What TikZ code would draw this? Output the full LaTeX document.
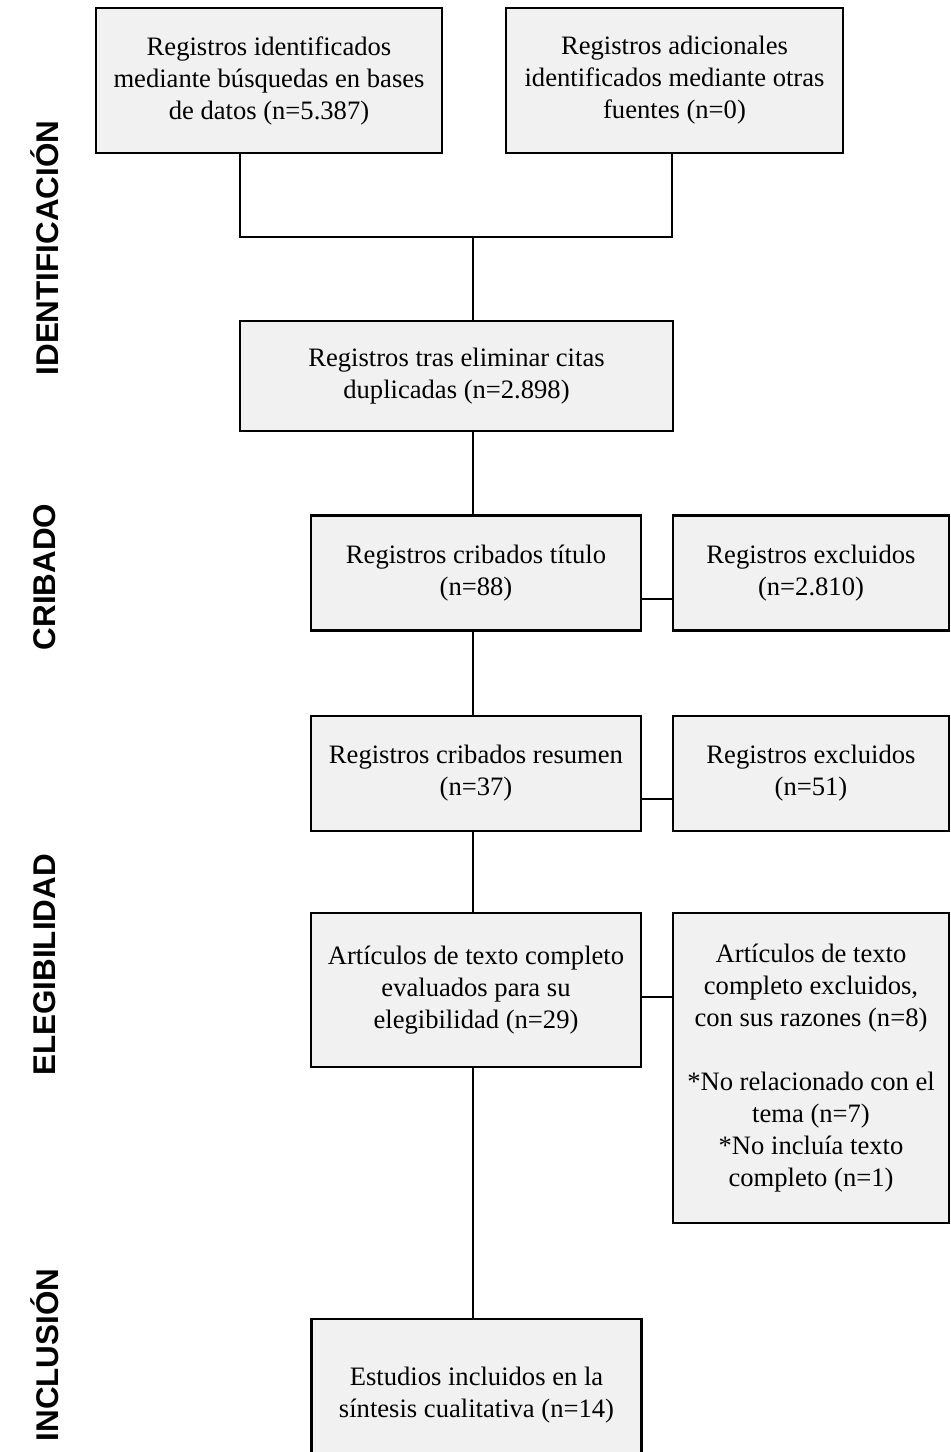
\documentclass[tikz,border=0pt]{standalone}
\usepackage{fontspec}
\setmainfont{Liberation Serif}
\newfontfamily\phasefont{Liberation Sans}
\usetikzlibrary{positioning}
\definecolor{boxgray}{RGB}{241,241,241}

\begin{document}
\begin{tikzpicture}[
  x=0.5pt, y=-0.5pt,
  box/.style={draw, line width=1.3pt, fill=boxgray, align=center, inner sep=0pt, outer sep=0pt,
    font=\fontsize{13.3}{16}\selectfont},
  phase/.style={rotate=90, font=\phasefont\bfseries\fontsize{15.7}{18}\selectfont},
  link/.style={line width=1pt}
]
\useasboundingbox (0,0) rectangle (950,1452);

% -------------------------
% PHASES (left column)
% -------------------------
\node[phase] (pid)  at (45,248)  {IDENTIFICACIÓN};
\node[phase] (pcri) at (45,577)  {CRIBADO};
\node[phase] (peleg) at (45,965) {ELEGIBILIDAD};
\node[phase] (pinc) at (45,1355) {INCLUSIÓN};

% -------------------------
% MAIN BOXES
% -------------------------
\node[box, minimum width=173pt, minimum height=72.5pt] (bdb) at (269,80.5)
  {Registros identificados\\mediante búsquedas en bases\\de datos (n=5.387)};
\node[box, minimum width=168.5pt, minimum height=72.5pt] (botras) at (674.5,80.5)
  {Registros adicionales\\identificados mediante otras\\fuentes (n=0)};
\node[box, minimum width=216.5pt, minimum height=55pt] (bdup) at (456.5,376)
  {Registros tras eliminar citas\\duplicadas (n=2.898)};
\node[box, minimum width=165pt, minimum height=57.5pt] (btit) at (476,573)
  {Registros cribados título\\(n=88)};
\node[box, minimum width=165pt, minimum height=57.5pt] (bres) at (476,773.5)
  {Registros cribados resumen\\(n=37)};
\node[box, minimum width=165pt, minimum height=77pt] (btxt) at (476,990)
  {Artículos de texto completo\\evaluados para su\\elegibilidad (n=29)};
\node[box, minimum width=165pt, minimum height=76pt] (binc) at (476.5,1395)
  {Estudios incluidos en la\\síntesis cualitativa (n=14)};

% -------------------------
% EXCLUDED BOXES (right)
% -------------------------
\node[box, minimum width=138pt, minimum height=57.5pt, right=16pt of btit] (xtit)
  {Registros excluidos\\(n=2.810)};
\node[box, minimum width=138pt, minimum height=57.5pt, right=16pt of bres] (xres)
  {Registros excluidos\\(n=51)};
\node[box, minimum width=138pt, minimum height=155pt, right=16pt of btxt.north east, anchor=north west] (xtxt)
  {Artículos de texto\\completo excluidos,\\con sus razones (n=8)\\[16pt]*No relacionado con el\\tema (n=7)\\*No incluía texto\\completo (n=1)};

% -------------------------
% CONNECTORS (plain lines)
% -------------------------
\coordinate (jl) at (240,237);
\coordinate (jr) at (672,237);
\coordinate (jm) at (473,237);
\coordinate (stit) at (0,599);
\coordinate (sres) at (0,799);
\coordinate (stxt) at (0,997);

\draw[link] (bdb.south -| jl) -- (jl) -- (jr) -- (botras.south -| jr);
\draw[link] (jm) -- (bdup.north -| jm);
\draw[link] (bdup.south -| jm) -- (btit.north -| jm);
\draw[link] (btit.south -| jm) -- (bres.north -| jm);
\draw[link] (bres.south -| jm) -- (btxt.north -| jm);
\draw[link] (btxt.south -| jm) -- (binc.north -| jm);

\draw[link] (btit.east |- stit) -- (xtit.west |- stit);
\draw[link] (bres.east |- sres) -- (xres.west |- sres);
\draw[link] (btxt.east |- stxt) -- (xtxt.west |- stxt);

\end{tikzpicture}
\end{document}
